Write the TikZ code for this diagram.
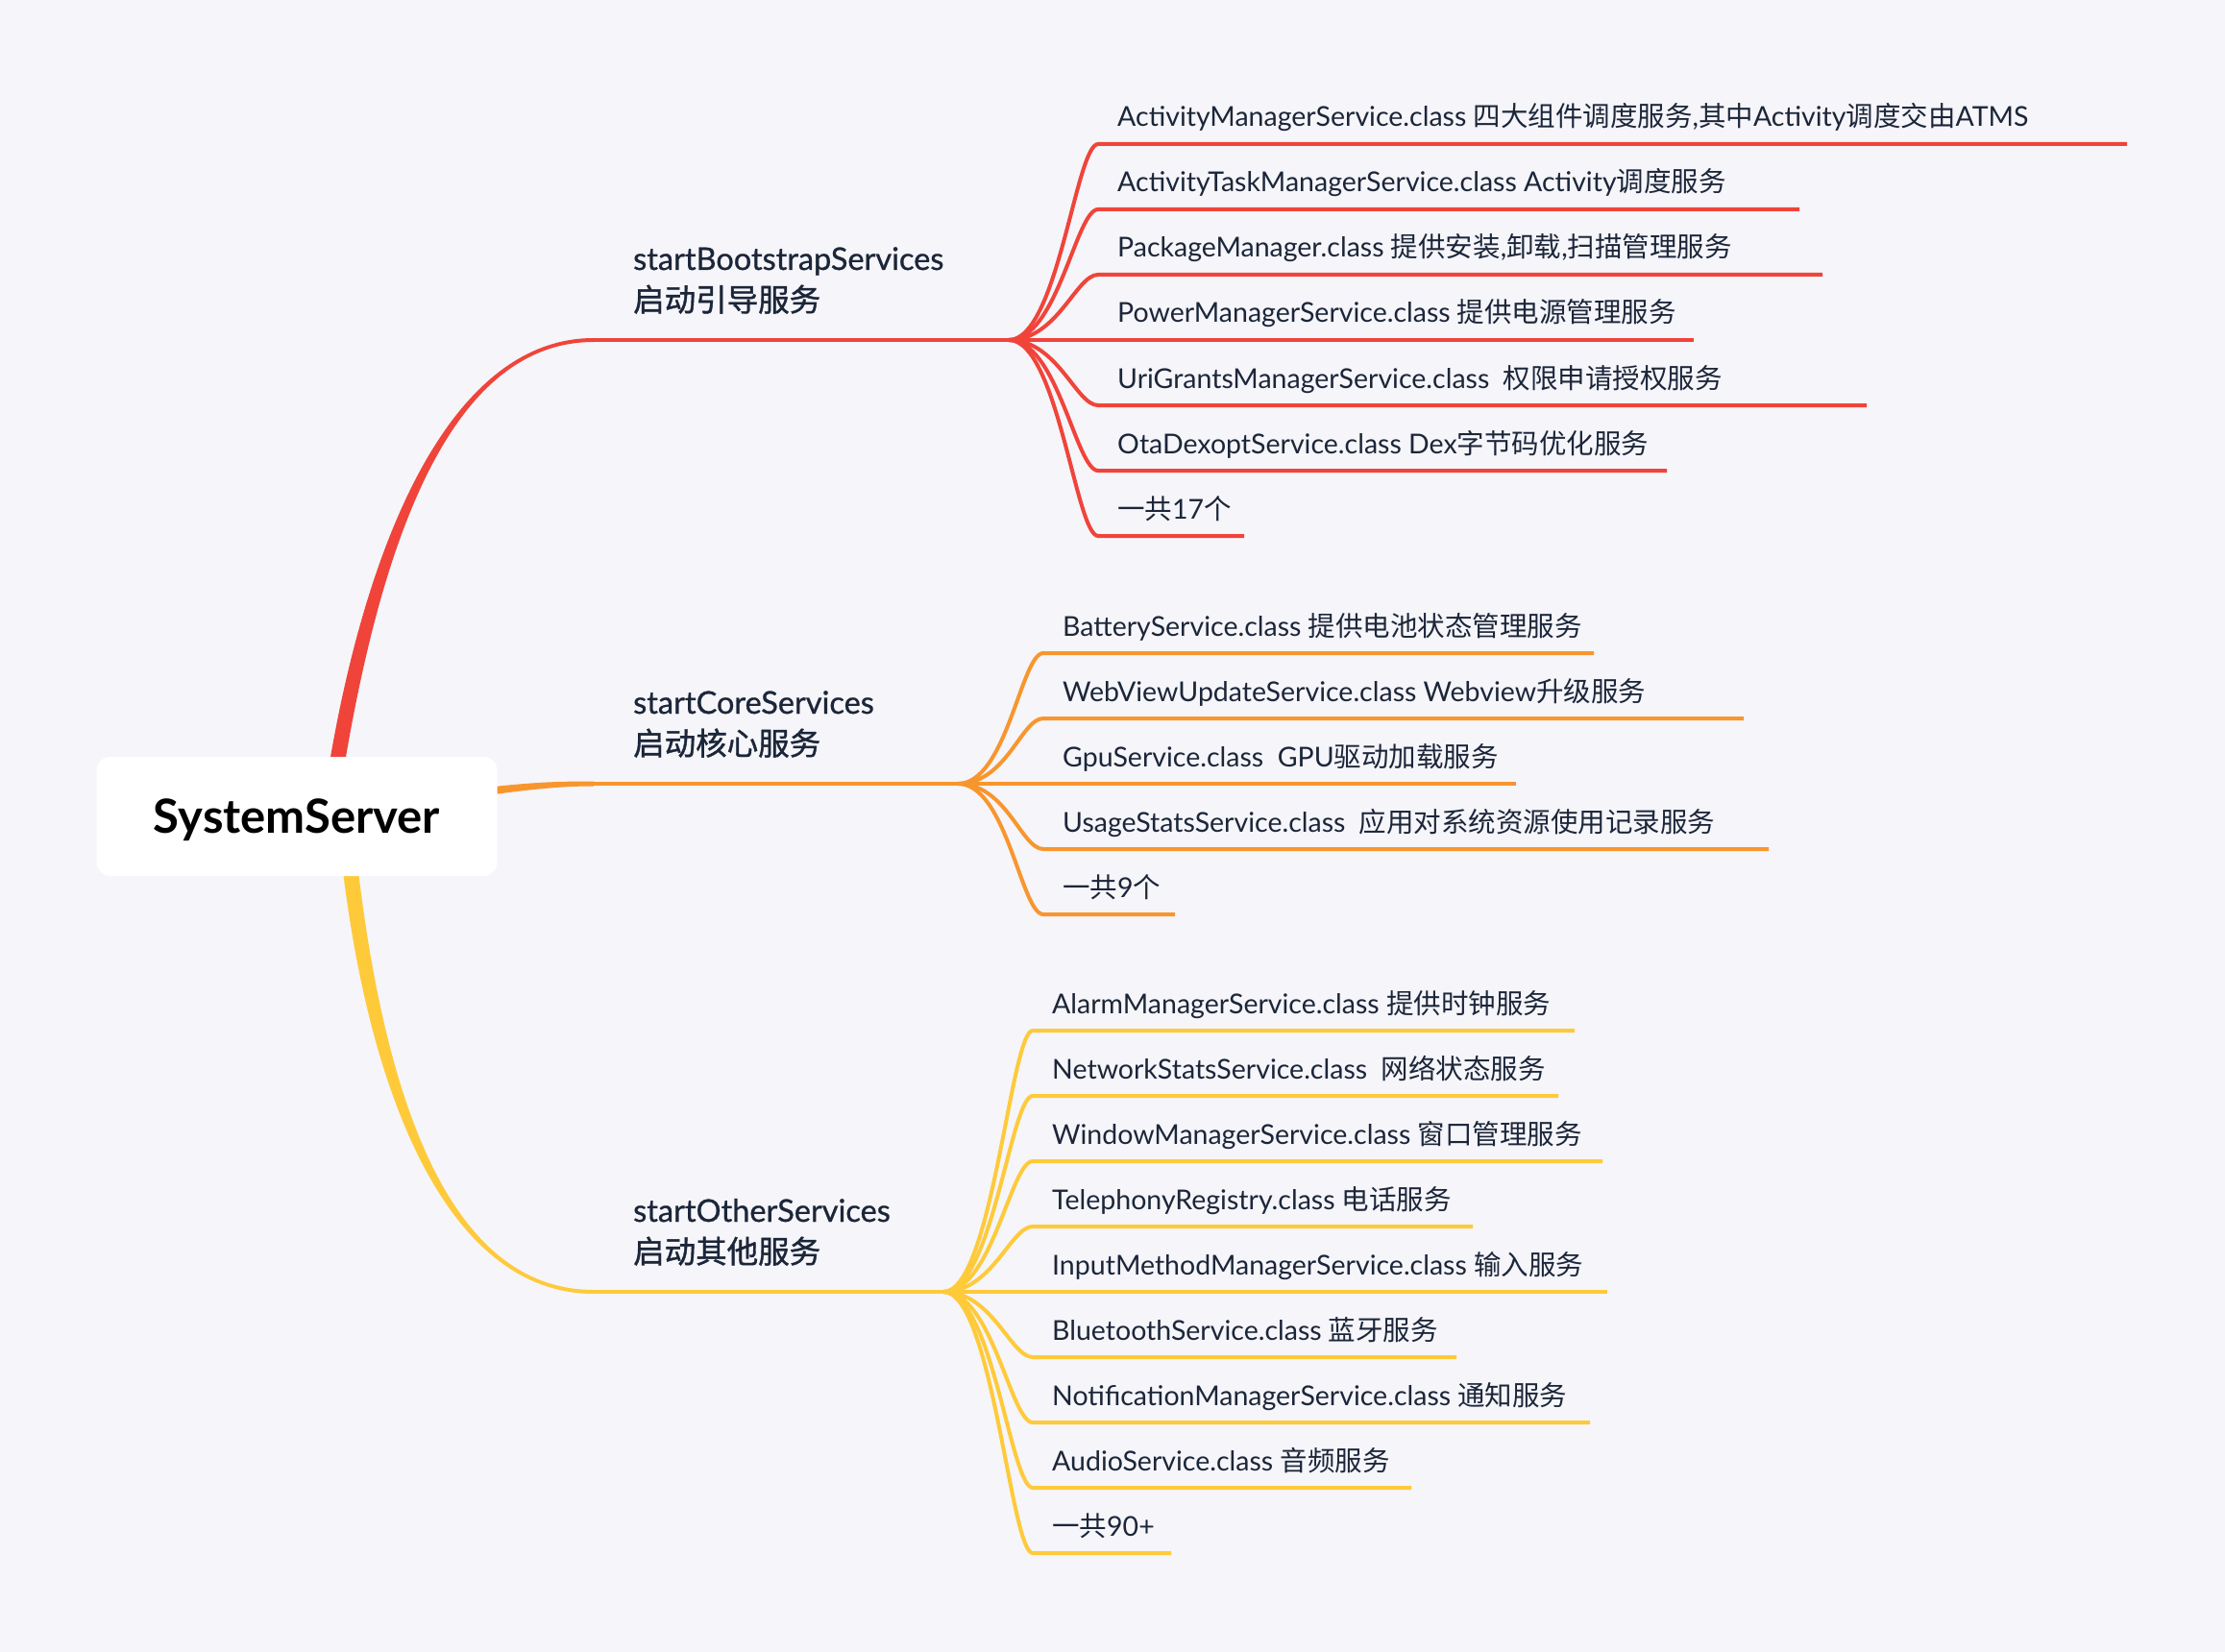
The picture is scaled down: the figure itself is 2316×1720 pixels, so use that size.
\documentclass[tikz,border=0pt]{standalone}
\usepackage{fontspec}
\setmainfont{Lato}
\newfontfamily\cjk{Noto Sans CJK SC}
\newfontfamily\headfont{Lato}[FakeBold=0.8]
\newfontfamily\headcjk{Noto Sans CJK SC}[FakeBold=1.2]
\definecolor{bgc}{HTML}{F5F5FA}
\definecolor{txt}{HTML}{1C2639}
\definecolor{cred}{HTML}{F0443A}
\definecolor{corange}{HTML}{F8962E}
\definecolor{cyellow}{HTML}{FFCA3A}
\newcommand\zh[1]{{\cjk #1}}
\newcommand\hzh[1]{{\headcjk #1}}
\tikzset{
  leaf/.style={anchor=base west, inner sep=0pt, text=txt, font=\fontsize{28.5}{34}\selectfont},
  head/.style={anchor=base west, inner sep=0pt, text=txt, font=\fontsize{32.5}{40}\selectfont\headfont},
  twig/.style={line width=4pt},
  rootbox/.style={fill=white, rounded corners=14pt, minimum width=417pt, minimum height=124pt,
    inner sep=0pt, text height=34pt, text depth=0pt, text=black, font=\fontsize{49}{56}\selectfont\bfseries}
}
% #1 name, #2 colour, #3 origin, #4 start x, #5 y, #6 end x, #7 text x, #8 text
\newcommand\leafitem[8]{%
  \coordinate (#1s) at (#4,#5);
  \coordinate (#1e) at (#6,#5);
  \draw[twig,#2] (#3) .. controls +(51,0) and +(-23,0) .. (#1s) -- (#1e);
  \node[leaf] (#1) at (#7,#5-18) {#8};
}
\begin{document}
\begin{tikzpicture}[x=1pt,y=-1pt]
\fill[bgc] (0,0) rectangle (2316,1720);
\useasboundingbox (0,0) rectangle (2316,1720);

% heading anchors and fan origins
\coordinate (rh) at (618,354);
\coordinate (ro) at (1050,354);
\coordinate (oh) at (618,816);
\coordinate (oo) at (997,816);
\coordinate (yh) at (618,1345);
\coordinate (yo) at (982,1345);

% main tapered branches
\fill[cred] (342,800) .. controls (382,560) and (470,352) .. (618,352) -- (618,356) .. controls (470,356) and (398,560) .. (358,800) -- cycle;
\fill[corange] (450,827.5) .. controls (540,814) and (580,813.5) .. (618,813.5) -- (618,818.5) .. controls (580,818.5) and (540,822.5) .. (450,836.5) -- cycle;
\fill[cyellow] (355,890) .. controls (384,1150) and (470,1347) .. (618,1347) -- (618,1343) .. controls (470,1343) and (400,1150) .. (371,890) -- cycle;

\draw[twig,cred] (rh) -- (ro);
\draw[twig,corange] (oh) -- (oo);
\draw[twig,cyellow] (yh) -- (yo);

% headings
\node[head] (rht) at (659,281) {startBootstrapServices};
\node[head] (rhz) at (659,324) {\hzh{启动引导服务}};
\node[head] (oht) at (659,743) {startCoreServices};
\node[head] (ohz) at (659,786) {\hzh{启动核心服务}};
\node[head] (yht) at (659,1272) {startOtherServices};
\node[head] (yhz) at (659,1315) {\hzh{启动其他服务}};

% red leaves
\leafitem{r1}{cred}{ro}{1143}{150}{2214}{1163}{ActivityManagerService.class \zh{四大组件调度服务},\zh{其中}Activity\zh{调度交由}ATMS}
\leafitem{r2}{cred}{ro}{1143}{218}{1873}{1163}{ActivityTaskManagerService.class Activity\zh{调度服务}}
\leafitem{r3}{cred}{ro}{1143}{286}{1897}{1163}{PackageManager.class \zh{提供安装},\zh{卸载},\zh{扫描管理服务}}
\leafitem{r4}{cred}{ro}{1143}{354}{1763}{1163}{PowerManagerService.class \zh{提供电源管理服务}}
\leafitem{r5}{cred}{ro}{1143}{422}{1943}{1163}{UriGrantsManagerService.class\ \ \zh{权限申请授权服务}}
\leafitem{r6}{cred}{ro}{1143}{490}{1735}{1163}{OtaDexoptService.class Dex\zh{字节码优化服务}}
\leafitem{r7}{cred}{ro}{1143}{558}{1295}{1163}{\zh{一共}17\zh{个}}

% orange leaves
\leafitem{o1}{corange}{oo}{1086}{680}{1659}{1106}{BatteryService.class \zh{提供电池状态管理服务}}
\leafitem{o2}{corange}{oo}{1086}{748}{1815}{1106}{WebViewUpdateService.class Webview\zh{升级服务}}
\leafitem{o3}{corange}{oo}{1086}{816}{1578}{1106}{GpuService.class\ \ GPU\zh{驱动加载服务}}
\leafitem{o4}{corange}{oo}{1086}{884}{1841}{1106}{UsageStatsService.class\ \ \zh{应用对系统资源使用记录服务}}
\leafitem{o5}{corange}{oo}{1086}{952}{1223}{1106}{\zh{一共}9\zh{个}}

% yellow leaves
\leafitem{y1}{cyellow}{yo}{1075}{1073}{1639}{1095}{AlarmManagerService.class \zh{提供时钟服务}}
\leafitem{y2}{cyellow}{yo}{1075}{1141}{1622}{1095}{NetworkStatsService.class\ \ \zh{网络状态服务}}
\leafitem{y3}{cyellow}{yo}{1075}{1209}{1668}{1095}{WindowManagerService.class \zh{窗口管理服务}}
\leafitem{y4}{cyellow}{yo}{1075}{1277}{1533}{1095}{TelephonyRegistry.class \zh{电话服务}}
\leafitem{y5}{cyellow}{yo}{1075}{1345}{1673}{1095}{InputMethodManagerService.class \zh{输入服务}}
\leafitem{y6}{cyellow}{yo}{1075}{1413}{1516}{1095}{BluetoothService.class \zh{蓝牙服务}}
\leafitem{y7}{cyellow}{yo}{1075}{1481}{1655}{1095}{NotificationManagerService.class \zh{通知服务}}
\leafitem{y8}{cyellow}{yo}{1075}{1549}{1469}{1095}{AudioService.class \zh{音频服务}}
\leafitem{y9}{cyellow}{yo}{1075}{1617}{1219}{1095}{\zh{一共}90+}

% root
\node[rootbox] (root) at (309,850) {SystemServer};
\end{tikzpicture}
\end{document}
